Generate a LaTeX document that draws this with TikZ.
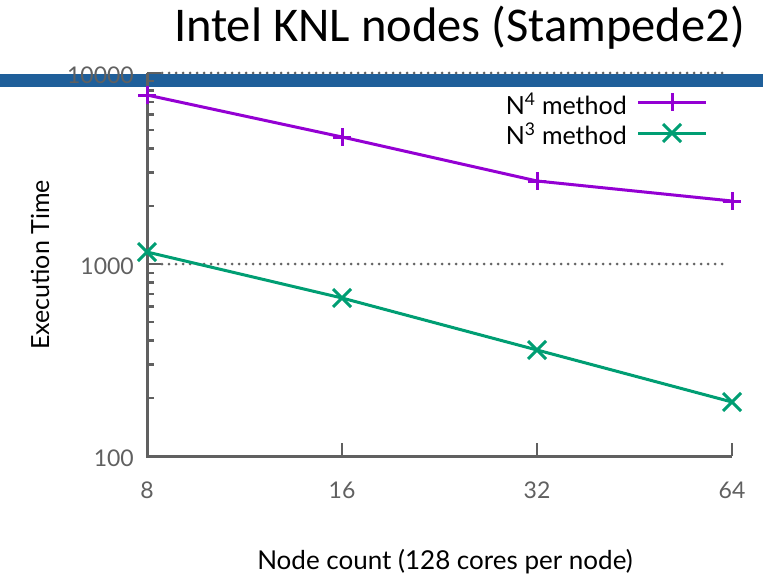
\documentclass[tikz,border=0pt]{standalone}
\usepackage{fontspec}
\setmainfont{Lato}
\newfontfamily\titlefont{Carlito}
\definecolor{axisgray}{RGB}{96,96,96}
\definecolor{gridgray}{RGB}{100,100,100}
\definecolor{barblue}{RGB}{31,95,154}
\definecolor{nfour}{RGB}{148,0,211}
\definecolor{nthree}{RGB}{0,158,115}
\tikzset{
  axisline/.style={draw=axisgray, line width=3pt},
  ticks/.style={draw=axisgray, line width=2.5pt},
  gridline/.style={draw=gridgray, line width=3pt, line cap=round, dash pattern=on 0pt off 7pt},
  series/.style={line width=3pt},
  ticklab/.style={text=axisgray, font=\fontsize{23}{25}\selectfont, inner sep=0pt},
  legendlab/.style={text=black, font=\fontsize{25}{27}\selectfont, inner sep=0pt, anchor=east},
  pmark/.pic={\draw[line width=3pt] (-9,0) -- (9,0) (0,-9) -- (0,9);},
  xmark/.pic={\draw[line width=3pt] (-9,-9) -- (9,9) (-9,9) -- (9,-9);}
}
\begin{document}
\begin{tikzpicture}[x=1pt, y=-1pt]
\useasboundingbox (0,0) rectangle (763,578);
% banner strip under the title
\fill[barblue] (0,74) rectangle (763,87);
\node[anchor=base east, inner sep=0pt, font=\titlefont\fontsize{48.5}{52}\selectfont] (title) at (745,42) {Intel KNL nodes (Stampede2)};

% grid at the decades
\draw[gridline] (162,73) -- (727,73);
\draw[gridline] (162,264) -- (727,264);

% minor ticks on the log axis
\foreach \d in {0,1}
  \foreach \k in {2,...,9}
    \draw[ticks] (147,{456-192*(\d+log10(\k))}) -- ++(7,0);
% major ticks
\foreach \yy in {73,264}
  \draw[ticks] (147,\yy) -- ++(14,0);
\foreach \xx in {342,537,732}
  \draw[ticks] (\xx,456) -- ++(0,-13);

% axes
\draw[axisline] (147,73) -- (147,456) -- (732,456);

% tick labels
\node[ticklab, anchor=east] (y100) at (134,458) {100};
\node[ticklab, anchor=east] (y1000) at (134,266) {1000};
\node[ticklab, anchor=east] (y10000) at (134,75) {10000};
\node[ticklab] (x8) at (147,490) {8};
\node[ticklab] (x16) at (342,490) {16};
\node[ticklab] (x32) at (537,490) {32};
\node[ticklab] (x64) at (732,490) {64};

% axis titles
\node[rotate=90, font=\fontsize{25}{27}\selectfont, inner sep=0pt] (ylab) at (40,265) {Execution Time};
\node[font=\fontsize{26}{28}\selectfont, inner sep=0pt] (xlab) at (445,562) {Node count (128 cores per node)};

% N^4 series
\coordinate (a1) at (147,95);
\coordinate (a2) at (342,137);
\coordinate (a3) at (537,181);
\coordinate (a4) at (732,201);
\draw[series, nfour] (a1) -- (a2) -- (a3) -- (a4);
\foreach \p in {a1,a2,a3,a4} \pic[nfour] at (\p) {pmark};

% N^3 series
\coordinate (b1) at (147,252);
\coordinate (b2) at (342,298);
\coordinate (b3) at (537,350);
\coordinate (b4) at (732,402);
\draw[series, nthree] (b1) -- (b2) -- (b3) -- (b4);
\foreach \p in {b1,b2,b3,b4} \pic[nthree] at (\p) {xmark};

% legend
\node[legendlab] (leg4) at (627,104) {N\textsuperscript{4} method};
\node[legendlab] (leg3) at (627,134) {N\textsuperscript{3} method};
\coordinate (l4a) at (638,102);
\coordinate (l4b) at (706,102);
\coordinate (l3a) at (638,133);
\coordinate (l3b) at (706,133);
\draw[series, nfour] (l4a) -- (l4b);
\pic[nfour] at (672,102) {pmark};
\draw[series, nthree] (l3a) -- (l3b);
\pic[nthree] at (672,133) {xmark};
\end{tikzpicture}
\end{document}
